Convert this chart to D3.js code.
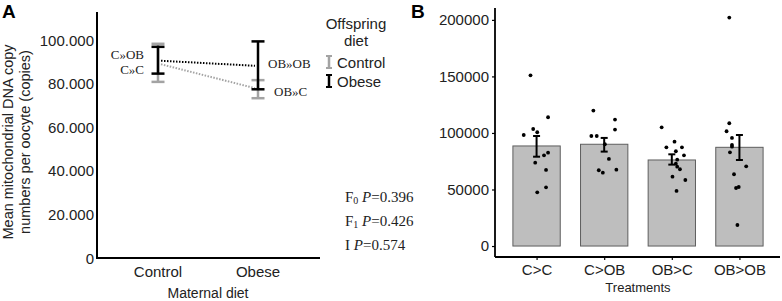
<!DOCTYPE html>
<html lang="en">
<head>
<meta charset="UTF-8">
<title>mtDNA copy numbers</title>
<script src="https://cdn.jsdelivr.net/npm/d3@7"></script>
<style>
  body { margin: 0; background: #fff; }
  text { font-family: "Liberation Sans", Arial, sans-serif; }
  .serif { font-family: "Liberation Serif", "Times New Roman", serif; }
</style>
</head>
<body>
<script>
// ---- panel A data ----
var maternal = ["Control", "Obese"];
var tickA = [0, 20000, 40000, 60000, 80000, 100000];
var tickALabels = ["0", "20.000", "40.000", "60.000", "80.000", "100.000"];
// offspring control diet (grey)
var ctrlMean = [89000, 78000];
var ctrlLow = [80900, 73400];
var ctrlHigh = [98400, 81700];
// offspring obese diet (black)
var obMean = [90600, 88300];
var obLow = [84700, 77500];
var obHigh = [97000, 99500];
var stats = [["F", "0", "0.396"], ["F", "1", "0.426"], ["I", "", "0.574"]];

// ---- panel B data ----
var treatments = ["C>C", "C>OB", "OB>C", "OB>OB"];
var tickB = [0, 50000, 100000, 150000, 200000];
var barMean = [88500, 90000, 76100, 87300];
var barLow = [79000, 83500, 72000, 76100];
var barHigh = [97300, 95600, 81100, 98200];
var ptsCC = [151000, 113900, 98200, 103500, 100600, 80200, 82600, 73700, 67300, 47500, 51900];
var ptsCOB = [119800, 111800, 103000, 97300, 97300, 90000, 77000, 67000, 64900, 67500];
var ptsOBC = [105000, 92300, 87300, 87300, 83800, 80200, 76400, 72800, 70200, 67900, 61300, 58400, 48700];
var ptsOBOB = [202000, 108600, 101500, 95600, 89400, 87900, 82900, 70500, 63500, 51300, 52200, 18600];
// horizontal jitter, in category steps
var jitCC = [-0.09, 0.17, -0.19, -0.05, 0.01, 0.11, 0.17, -0.02, 0.14, 0.01, 0.14];
var jitCOB = [-0.16, 0.16, 0.16, -0.19, -0.11, 0.01, 0.07, -0.08, -0.02, 0.18];
var jitOBC = [-0.15, 0.04, -0.08, 0.15, 0.06, 0.18, 0.08, 0.06, 0.08, 0.12, 0.01, 0.20, 0.07];
var jitOBOB = [-0.15, -0.15, -0.19, -0.11, -0.11, -0.11, -0.14, 0.10, -0.08, -0.05, -0.01, -0.03];

var grey = "#a3a3a3";

var svg = d3.select("body").append("svg")
    .attr("width", 782)
    .attr("height", 301);

// ================= Panel A =================
var gA = svg.append("g");

var xA = d3.scalePoint().domain(maternal).range([158, 258]);
var yA = d3.scaleLinear().domain([0, 113000]).range([258, 12]);

gA.append("text").attr("x", 2).attr("y", 18)
    .attr("font-size", "19px").attr("font-weight", "bold").text("A");

// axes lines
gA.append("line").attr("x1", 97).attr("x2", 97).attr("y1", yA(113000)).attr("y2", yA(0))
    .attr("stroke", "black").attr("stroke-width", 2);
gA.append("line").attr("x1", 96).attr("x2", 320).attr("y1", yA(0)).attr("y2", yA(0))
    .attr("stroke", "black").attr("stroke-width", 2);

// y tick labels (no tick marks)
gA.selectAll(".ytA").data(tickA).enter().append("text")
    .attr("x", 94)
    .attr("y", function (d) { return yA(d); })
    .attr("text-anchor", "end")
    .attr("dominant-baseline", "central")
    .attr("font-size", "15px")
    .attr("fill", "#222")
    .text(function (d, i) { return tickALabels[i]; });

gA.selectAll(".xtA").data(maternal).enter().append("text")
    .attr("x", function (d) { return xA(d); })
    .attr("y", 271)
    .attr("text-anchor", "middle")
    .attr("dominant-baseline", "central")
    .attr("font-size", "15px")
    .attr("fill", "#222")
    .text(function (d) { return d; });

gA.append("text").attr("x", 208).attr("y", 293)
    .attr("text-anchor", "middle").attr("dominant-baseline", "central")
    .attr("font-size", "14px").attr("fill", "#222").text("Maternal diet");

var yTitle = gA.append("text")
    .attr("transform", "translate(8,142) rotate(-90)")
    .attr("text-anchor", "middle")
    .attr("font-size", "14.5px")
    .attr("fill", "#222");
yTitle.append("tspan").attr("x", 0).attr("dy", "0.35em").text("Mean mitochondrial DNA copy");
yTitle.append("tspan").attr("x", 0).attr("dy", "1.15em").text("numbers per oocyte (copies)");

// dotted connecting lines
function dotted(means, color) {
    gA.append("path")
        .datum(means)
        .attr("fill", "none")
        .attr("stroke", color)
        .attr("stroke-width", 2)
        .attr("stroke-dasharray", "1.5,1.5")
        .attr("d", d3.line()
            .x(function (d, i) { return xA(maternal[i]) + (i === 0 ? 3 : -3); })
            .y(function (d) { return yA(d); }));
}
dotted(ctrlMean, grey);
dotted(obMean, "black");

function errBars(low, high, color, w) {
    maternal.forEach(function (m, i) {
        var x = xA(m);
        gA.append("line").attr("x1", x).attr("x2", x)
            .attr("y1", yA(low[i])).attr("y2", yA(high[i]))
            .attr("stroke", color).attr("stroke-width", w);
        [low[i], high[i]].forEach(function (v) {
            gA.append("line").attr("x1", x - 6.5).attr("x2", x + 6.5)
                .attr("y1", yA(v)).attr("y2", yA(v))
                .attr("stroke", color).attr("stroke-width", w);
        });
    });
}
errBars(ctrlLow, ctrlHigh, grey, 2.5);
errBars(obLow, obHigh, "black", 2.5);

// group labels
var groupLabels = [
    {t: "C»OB", x: 144, y: 54, a: "end"},
    {t: "C»C", x: 144, y: 69, a: "end"},
    {t: "OB»OB", x: 268, y: 63, a: "start"},
    {t: "OB»C", x: 274, y: 91, a: "start"}
];
gA.selectAll(".gl").data(groupLabels).enter().append("text")
    .attr("class", "serif")
    .attr("x", function (d) { return d.x; })
    .attr("y", function (d) { return d.y; })
    .attr("text-anchor", function (d) { return d.a; })
    .attr("dominant-baseline", "central")
    .attr("font-size", "13px")
    .attr("fill", "#222")
    .text(function (d) { return d.t; });

// legend
gA.append("text").attr("x", 356).attr("y", 23).attr("text-anchor", "middle")
    .attr("dominant-baseline", "central").attr("font-size", "15px").attr("fill", "#222").text("Offspring");
gA.append("text").attr("x", 356).attr("y", 40).attr("text-anchor", "middle")
    .attr("dominant-baseline", "central").attr("font-size", "15px").attr("fill", "#222").text("diet");
[["Control", grey, 62], ["Obese", "black", 81]].forEach(function (l) {
    var cx = 329, cy = l[2];
    gA.append("line").attr("x1", cx).attr("x2", cx).attr("y1", cy - 6).attr("y2", cy + 6)
        .attr("stroke", l[1]).attr("stroke-width", 2.5);
    [cy - 6, cy + 6].forEach(function (yy) {
        gA.append("line").attr("x1", cx - 3).attr("x2", cx + 3).attr("y1", yy).attr("y2", yy)
            .attr("stroke", l[1]).attr("stroke-width", 2);
    });
    gA.append("text").attr("x", 337).attr("y", cy).attr("dominant-baseline", "central")
        .attr("font-size", "15px").attr("fill", "#222").text(l[0]);
});

// statistics
stats.forEach(function (s, i) {
    var t = gA.append("text").attr("class", "serif")
        .attr("x", 345).attr("y", 197 + i * 24)
        .attr("dominant-baseline", "central")
        .attr("font-size", "15px").attr("fill", "#222");
    t.append("tspan").text(s[0]);
    if (s[1]) t.append("tspan").attr("font-size", "10px").attr("dy", "3").text(s[1]);
    t.append("tspan").attr("dy", s[1] ? "-3" : "0").text(" ");
    t.append("tspan").attr("font-style", "italic").text("P");
    t.append("tspan").text("=" + s[2]);
});

// ================= Panel B =================
var gB = svg.append("g");

var xB = d3.scalePoint().domain(treatments).range([496, 780]).padding(0.6);
var step = xB.step();
var barW = step * 0.7;
var yB = d3.scaleLinear().domain([-9700, 210500]).range([257, 8]);

gB.append("text").attr("x", 411).attr("y", 18)
    .attr("font-size", "19px").attr("font-weight", "bold").text("B");

gB.append("g")
    .attr("transform", "translate(495,0)")
    .call(d3.axisLeft(yB).tickValues(tickB).tickSize(3).tickPadding(3).tickFormat(d3.format("d")))
    .call(function (g) {
        g.select(".domain").attr("stroke-width", 1.8).attr("d", "M0,8V257");
        g.selectAll("line").attr("stroke-width", 1.2);
        g.selectAll("text").attr("font-size", "15px").attr("fill", "#222")
            .attr("font-family", "Liberation Sans, Arial, sans-serif");
    });

gB.append("g")
    .attr("transform", "translate(0,257)")
    .call(d3.axisBottom(xB).tickSize(3).tickPadding(4))
    .call(function (g) {
        g.select(".domain").attr("stroke-width", 1.8).attr("d", "M495,0H780");
        g.selectAll("line").attr("stroke-width", 1.2);
        g.selectAll("text").attr("font-size", "15px").attr("fill", "#222")
            .attr("font-family", "Liberation Sans, Arial, sans-serif");
    });

gB.append("text").attr("x", 638).attr("y", 287)
    .attr("text-anchor", "middle").attr("dominant-baseline", "central")
    .attr("font-size", "13px").attr("fill", "#222").text("Treatments");

gB.selectAll(".bar").data(treatments).enter().append("rect")
    .attr("x", function (d) { return xB(d) - barW / 2; })
    .attr("y", function (d, i) { return yB(barMean[i]); })
    .attr("width", barW)
    .attr("height", function (d, i) { return yB(0) - yB(barMean[i]); })
    .attr("fill", "#bebebe")
    .attr("stroke", "#5e5e5e")
    .attr("stroke-width", 1);

var allPts = [ptsCC, ptsCOB, ptsOBC, ptsOBOB];
var allJit = [jitCC, jitCOB, jitOBC, jitOBOB];
treatments.forEach(function (t, k) {
    gB.selectAll(".pt" + k).data(allPts[k]).enter().append("circle")
        .attr("cx", function (d, i) { return xB(t) + allJit[k][i] * step; })
        .attr("cy", function (d) { return yB(d); })
        .attr("r", 1.9)
        .attr("fill", "black");
});

treatments.forEach(function (t, i) {
    var x = xB(t);
    gB.append("line").attr("x1", x).attr("x2", x)
        .attr("y1", yB(barLow[i])).attr("y2", yB(barHigh[i]))
        .attr("stroke", "black").attr("stroke-width", 2);
    [barLow[i], barHigh[i]].forEach(function (v) {
        gB.append("line").attr("x1", x - 3.5).attr("x2", x + 3.5)
            .attr("y1", yB(v)).attr("y2", yB(v))
            .attr("stroke", "black").attr("stroke-width", 2);
    });
});
</script>
</body>
</html>
